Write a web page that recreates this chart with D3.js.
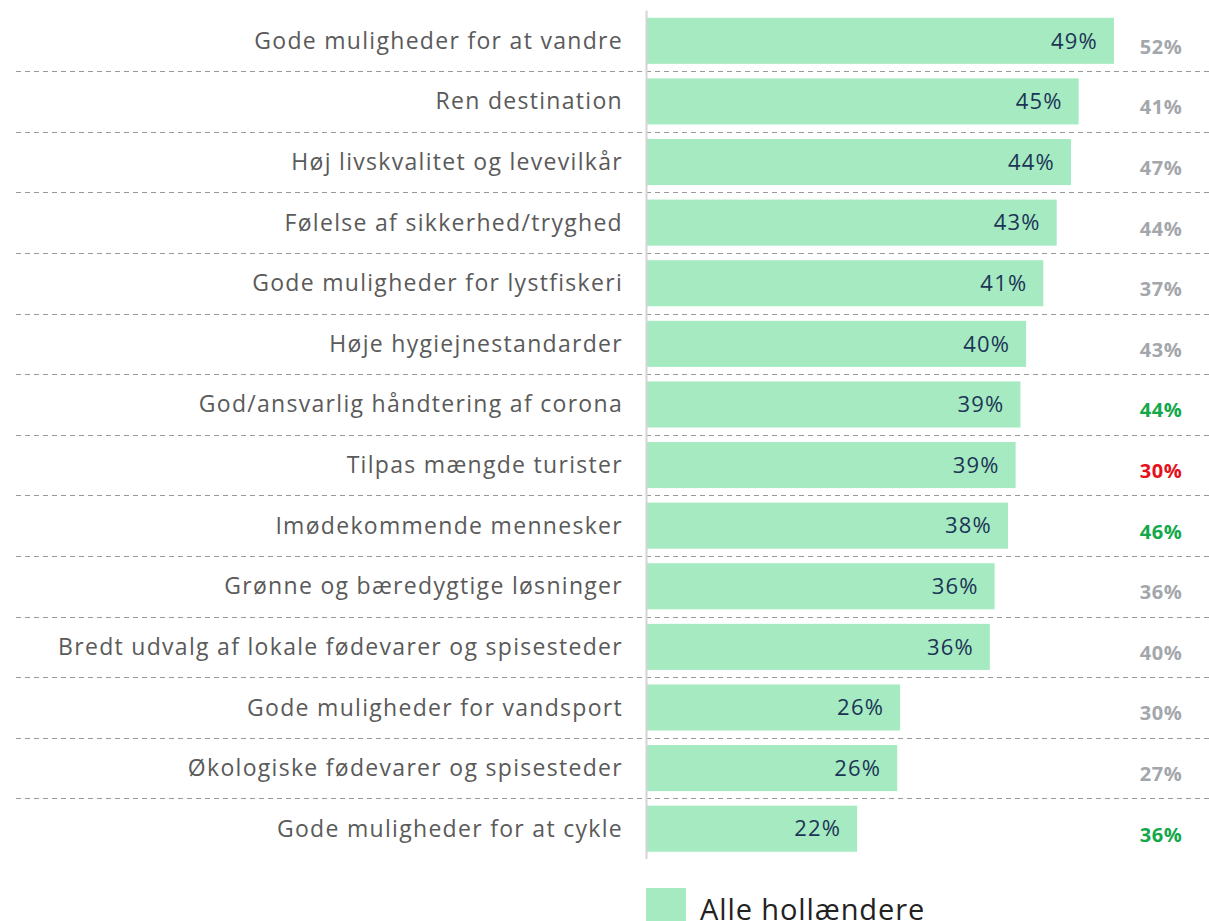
<!DOCTYPE html>
<html>
<head>
<meta charset="utf-8">
<script src="https://cdn.jsdelivr.net/npm/d3@7"></script>
<style>
  body { margin: 0; background: #fff; }
  text { font-family: "Open Sans", "Noto Sans", sans-serif; }
</style>
</head>
<body>
<div id="chart-container"></div>
<script>
const categories = [
  "Gode muligheder for at vandre",
  "Ren destination",
  "Høj livskvalitet og levevilkår",
  "Følelse af sikkerhed/tryghed",
  "Gode muligheder for lystfiskeri",
  "Høje hygiejnestandarder",
  "God/ansvarlig håndtering af corona",
  "Tilpas mængde turister",
  "Imødekommende mennesker",
  "Grønne og bæredygtige løsninger",
  "Bredt udvalg af lokale fødevarer og spisesteder",
  "Gode muligheder for vandsport",
  "Økologiske fødevarer og spisesteder",
  "Gode muligheder for at cykle"
];
// bar lengths
const allValues = [48.9, 45.2, 44.4, 42.9, 41.5, 39.7, 39.1, 38.6, 37.8, 36.4, 35.9, 26.5, 26.2, 22.0];
const allLabels = ["49%", "45%", "44%", "43%", "41%", "40%", "39%", "39%", "38%", "36%", "36%", "26%", "26%", "22%"];
const compareLabels = ["52%", "41%", "47%", "44%", "37%", "43%", "44%", "30%", "46%", "36%", "40%", "30%", "27%", "36%"];
const compareSignal = ["same", "same", "same", "same", "same", "same", "up", "down", "up", "same", "same", "same", "same", "up"];
const legendLabel = "Alle hollændere";

const signalColor = { same: "#a3a7ab", up: "#13a84a", down: "#e6101c" };

const width = 1209, height = 921;
const svg = d3.select("#chart-container")
  .append("svg")
  .attr("width", width)
  .attr("height", height);

const y = d3.scaleBand()
  .domain(categories)
  .range([10.5, 859])
  .paddingInner(0.24)
  .paddingOuter(0.12);

const x = d3.scaleLinear()
  .domain([0, 50])
  .range([647, 1124.5]);

// dashed separators
svg.append("g")
  .selectAll("line")
  .data(categories.slice(1))
  .join("line")
  .attr("x1", 16)
  .attr("x2", width)
  .attr("y1", d => Math.round(y(d) - y.step() * y.paddingInner() / 2) + 0.5)
  .attr("y2", d => Math.round(y(d) - y.step() * y.paddingInner() / 2) + 0.5)
  .attr("stroke", "#999")
  .attr("stroke-width", 1.2)
  .attr("stroke-dasharray", "5,4");

// bars
svg.append("g")
  .selectAll("rect")
  .data(allValues)
  .join("rect")
  .attr("x", x(0))
  .attr("y", (d, i) => y(categories[i]))
  .attr("width", d => x(d) - x(0))
  .attr("height", y.bandwidth())
  .attr("fill", "#a5eac0");

// vertical axis line
svg.append("line")
  .attr("x1", 646.5).attr("x2", 646.5)
  .attr("y1", y.range()[0]).attr("y2", y.range()[1])
  .attr("stroke", "#d4d4d4")
  .attr("stroke-width", 2);

// category labels
svg.append("g")
  .selectAll("text")
  .data(categories)
  .join("text")
  .attr("x", 623)
  .attr("y", d => y(d) + y.bandwidth() / 2)
  .attr("dy", "0.35em")
  .attr("text-anchor", "end")
  .attr("font-size", 23)
  .attr("letter-spacing", 1.3)
  .attr("fill", "#5a5a5a")
  .text(d => d);

// values inside bars
svg.append("g")
  .selectAll("text")
  .data(allValues)
  .join("text")
  .attr("x", d => x(d) - 16)
  .attr("y", (d, i) => y(categories[i]) + y.bandwidth() / 2)
  .attr("dy", "0.35em")
  .attr("text-anchor", "end")
  .attr("font-size", 22)
  .attr("letter-spacing", 1.2)
  .attr("fill", "#1c3557")
  .text((d, i) => allLabels[i]);

// comparison column
svg.append("g")
  .selectAll("text")
  .data(compareLabels)
  .join("text")
  .attr("x", 1161)
  .attr("y", (d, i) => y(categories[i]) + y.bandwidth() / 2 + 6)
  .attr("dy", "0.35em")
  .attr("text-anchor", "middle")
  .attr("font-size", 20)
  .attr("letter-spacing", 0.6)
  .attr("font-weight", "bold")
  .attr("fill", (d, i) => signalColor[compareSignal[i]])
  .text(d => d);

// legend
const legend = svg.append("g").attr("transform", "translate(646,888)");
legend.append("rect")
  .attr("width", 40)
  .attr("height", 40)
  .attr("fill", "#a5eac0");
legend.append("text")
  .attr("x", 54)
  .attr("y", 32)
  .attr("font-size", 29)
  .attr("letter-spacing", 0.9)
  .attr("fill", "#222")
  .text(legendLabel);
</script>
</body>
</html>
